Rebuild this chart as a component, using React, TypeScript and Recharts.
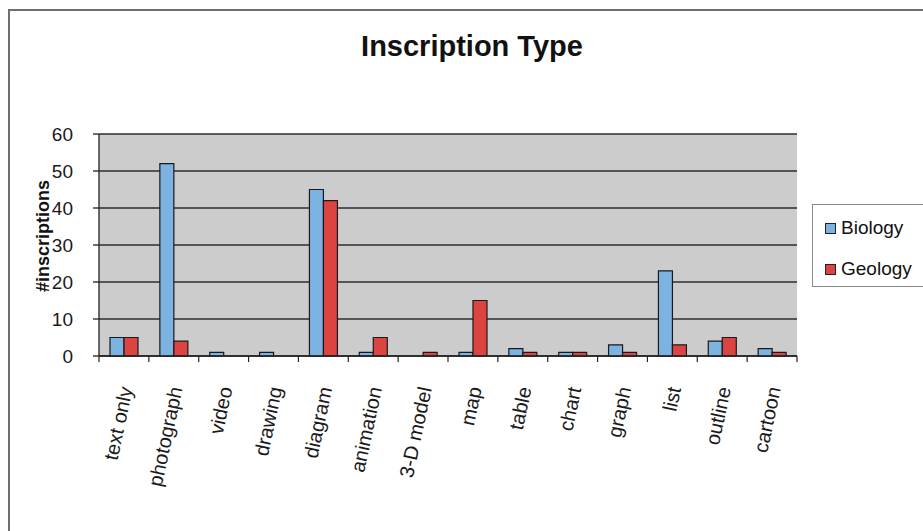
import React from 'react';
import { BarChart, Bar, XAxis, YAxis, CartesianGrid, Legend } from 'recharts';

const CATEGORIES = ['text only', 'photograph', 'video', 'drawing', 'diagram', 'animation', '3-D model', 'map', 'table', 'chart', 'graph', 'list', 'outline', 'cartoon'];
const BIOLOGY = [5, 52, 1, 1, 45, 1, 0, 1, 2, 1, 3, 23, 4, 2];
const GEOLOGY = [5, 4, 0, 0, 42, 5, 1, 15, 1, 1, 1, 3, 5, 1];
const Y_TICKS = [0, 10, 20, 30, 40, 50, 60];

const data = CATEGORIES.map((name, i) => ({ name, Biology: BIOLOGY[i], Geology: GEOLOGY[i] }));

const FONT = '"Liberation Sans", Arial, Helvetica, sans-serif';

const XTick = (props: any) => {
  const { x, y, payload, index, visibleTicksCount } = props;
  const half = payload.offset || 0;
  return (
    <g>
      <line x1={x - half} x2={x - half} y1={y - 8} y2={y - 2} stroke="#222" strokeWidth={1.2} />
      {index === visibleTicksCount - 1 && (
        <line x1={x + half} x2={x + half} y1={y - 8} y2={y - 2} stroke="#222" strokeWidth={1.2} />
      )}
      <g transform={`translate(${x + 2},${y + 23})`}>
        <text x={0} y={0} dy="0.35em" textAnchor="end" transform="rotate(-78)" fontSize={20} fill="#1a1a1a" fontFamily={FONT}>
          {payload.value}
        </text>
      </g>
    </g>
  );
};

const YLabel = ({ viewBox }: any) => {
  const cx = viewBox.x + 4;
  const cy = viewBox.y + viewBox.height / 2 - 9;
  return (
    <text x={cx} y={cy} transform={`rotate(-90, ${cx}, ${cy})`} textAnchor="middle" dominantBaseline="central"
      fontSize={18} fontWeight="bold" fill="#111" fontFamily={FONT}>
      #inscriptions
    </text>
  );
};

const LegendBox = ({ payload }: any) => (
  <div style={{ background: '#fff', border: '1.5px solid #8a8a8a', padding: '12px 40px 6px 12px', fontFamily: FONT, fontSize: 19, color: '#111' }}>
    {(payload || []).map((p: any, i: number) => (
      <div key={p.value} style={{ display: 'flex', alignItems: 'center', height: 22, marginBottom: i === 0 ? 19 : 0 }}>
        <span style={{ display: 'inline-block', width: 9, height: 9, background: p.color, border: '1px solid #222', marginRight: 5 }} />
        <span>{p.value}</span>
      </div>
    ))}
  </div>
);

export default function App() {
  return (
    <div style={{ position: 'absolute', left: 0, top: 0, width: 923, height: 531, overflow: 'hidden', background: '#fff' }}>
      <div style={{ position: 'absolute', left: 8, top: 9, width: 1000, height: 700, border: '2px solid #6e6e6e' }} />
      <div style={{ position: 'absolute', left: 0, top: 32, width: 944, textAlign: 'center', fontFamily: FONT, fontWeight: 'bold', fontSize: 29, lineHeight: '29px', color: '#111' }}>
        Inscription Type
      </div>
      <div style={{ position: 'absolute', left: 0, top: 0 }}>
        <BarChart width={923} height={531} data={data} barSize={14} barGap={0}
          margin={{ top: 134, right: 126, bottom: 0, left: 39 }}>
          <CartesianGrid vertical={false} horizontal stroke="#2e2e2e" strokeWidth={1.3} fill="#cccccc" fillOpacity={1} />
          <XAxis dataKey="name" interval={0} tickLine={false} axisLine={{ stroke: '#222', strokeWidth: 1.3 }} tick={<XTick />} height={175} />
          <YAxis domain={[0, 60]} ticks={Y_TICKS} width={60} tickSize={6} tickMargin={20}
            axisLine={{ stroke: '#222', strokeWidth: 1.3 }} tickLine={{ stroke: '#222', strokeWidth: 1.3 }}
            tick={{ fontSize: 19, fill: '#1a1a1a', fontFamily: FONT }} label={<YLabel />} />
          <YAxis yAxisId="right" orientation="right" width={0} tick={false} tickLine={false} axisLine={{ stroke: '#9a9a9a', strokeWidth: 1.5 }} />
          <Legend layout="vertical" align="center" verticalAlign="middle" content={<LegendBox />}
            wrapperStyle={{ left: 812, top: 204, width: 'auto' }} />
          <Bar dataKey="Biology" fill="#7db3e1" stroke="#1a1a1a" strokeWidth={1.2} isAnimationActive={false} />
          <Bar dataKey="Geology" fill="#dc4442" stroke="#1a1a1a" strokeWidth={1.2} isAnimationActive={false} />
        </BarChart>
      </div>
    </div>
  );
}
